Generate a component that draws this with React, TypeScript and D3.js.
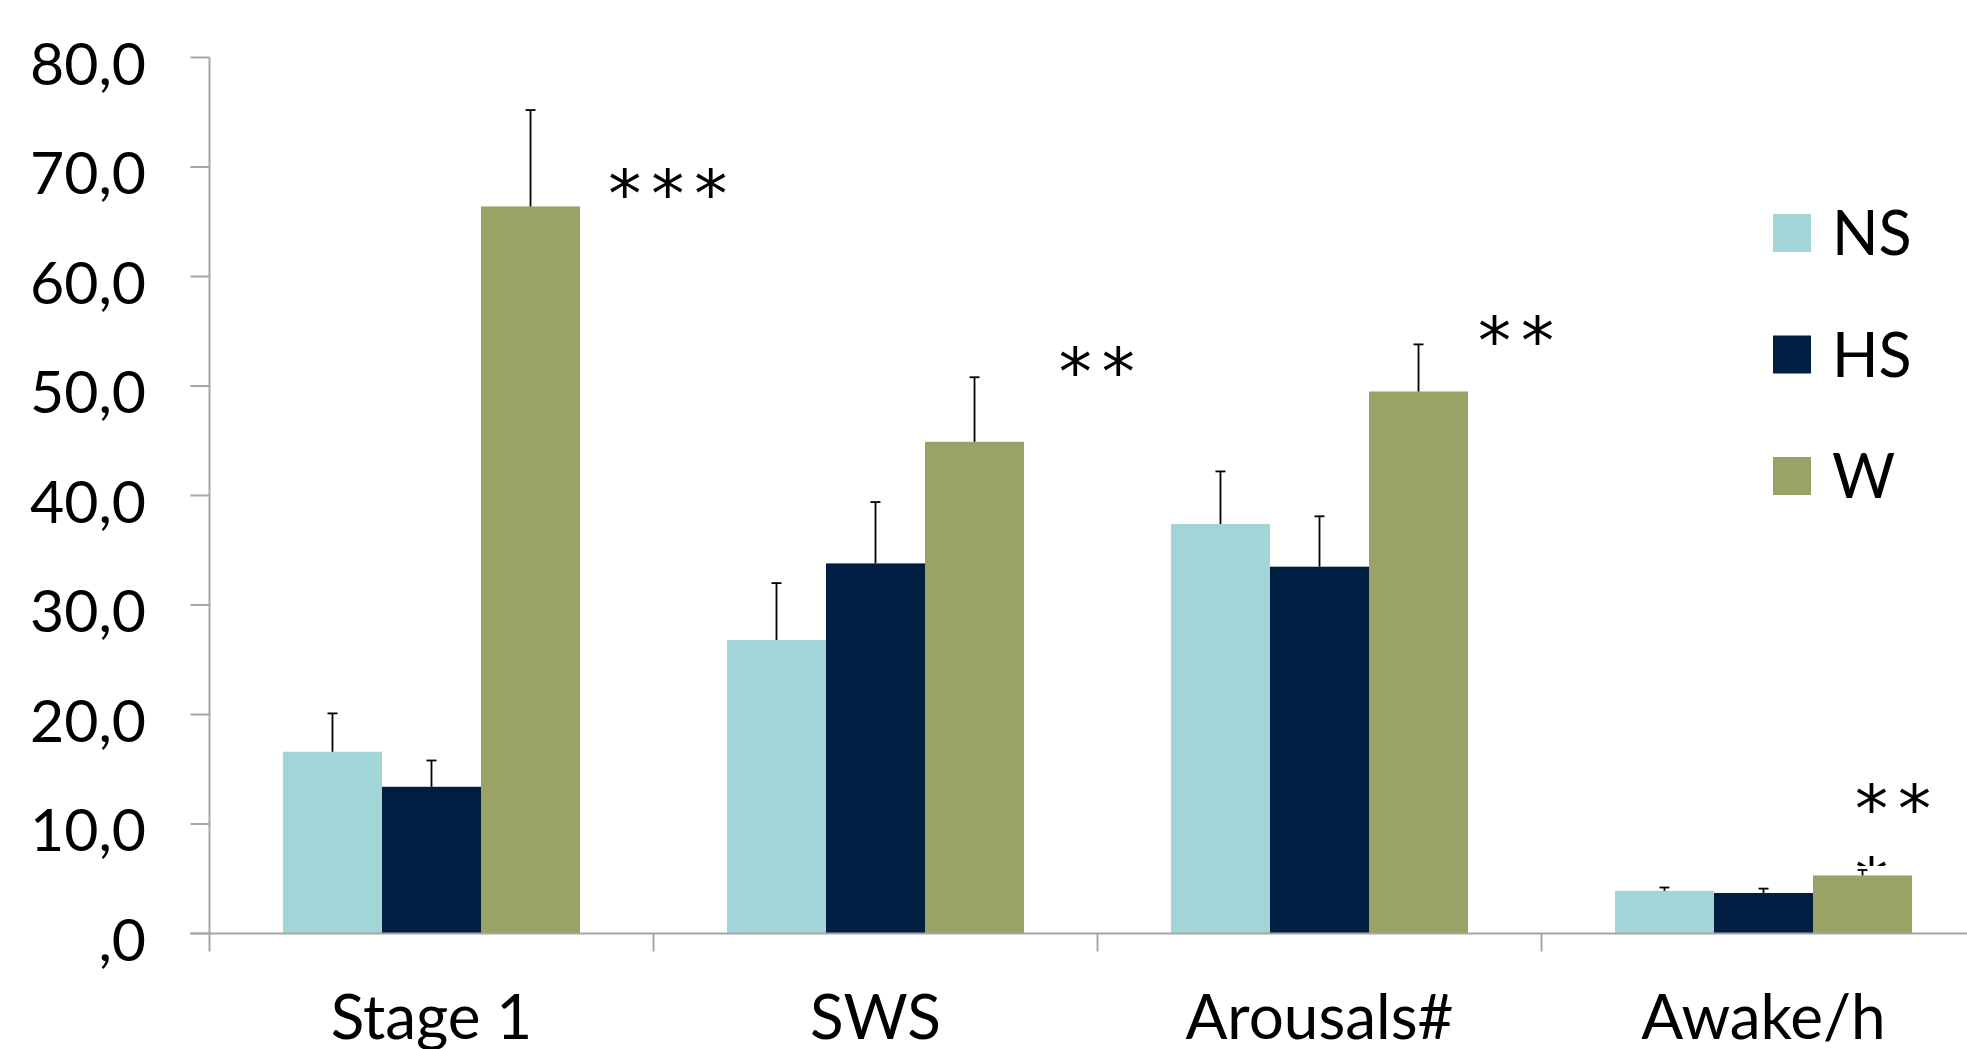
import { useEffect, useRef } from 'react';
import * as d3 from 'd3';

const categories = ['Stage 1', 'SWS', 'Arousals#', 'Awake/h'];
const series = ['NS', 'HS', 'W'];
const colors = ['#a1d5d7', '#001e42', '#9ba266'];

const nsValues = [16.6, 26.8, 37.4, 3.9];
const hsValues = [13.4, 33.8, 33.5, 3.7];
const wValues = [66.4, 44.9, 49.5, 5.3];

const nsErrors = [3.5, 5.2, 4.8, 0.3];
const hsErrors = [2.4, 5.6, 4.6, 0.4];
const wErrors = [8.8, 5.9, 4.3, 0.5];

const yTicks = [0, 10, 20, 30, 40, 50, 60, 70, 80];

// significance marks: label, x (fraction of category step), y (value of glyph centre)
const sigLabels = ['***', '**', '**', '**'];
const sigX = [0.898, 0.913, 0.857, 0.706];
const sigY = [69.0, 52.7, 55.6, 12.8];

export default function App() {
    const svgRef = useRef<SVGSVGElement>(null);

    useEffect(() => {
        if (!svgRef.current) return;

        const width = 1967;
        const height = 1049;
        const svg = d3.select(svgRef.current);
        svg.selectAll('*').remove();
        svg.attr('width', width).attr('height', height);

        const x0 = 209.5;
        const step = 444;
        const axisColor = '#a6a6a6';
        const font = 'Lato, "Open Sans", sans-serif';
        const starFont = '"DejaVu Sans", sans-serif';

        const x = d3.scaleBand()
            .domain(categories)
            .range([x0, x0 + step * categories.length])
            .padding(0);

        const xs = d3.scaleBand()
            .domain(series)
            .range([0, x.bandwidth()])
            .paddingInner(0)
            .paddingOuter(0.742);

        const y = d3.scaleLinear().domain([0, 80]).range([933.5, 57.5]);

        const values = [nsValues, hsValues, wValues];
        const errors = [nsErrors, hsErrors, wErrors];

        // Bars
        series.forEach((s, si) => {
            const g = svg.append('g');
            g.selectAll('rect')
                .data(categories)
                .join('rect')
                .attr('x', (c) => (x(c) as number) + (xs(s) as number))
                .attr('y', (c, i) => y(values[si][i]))
                .attr('width', xs.bandwidth())
                .attr('height', (c, i) => y(0) - y(values[si][i]))
                .attr('fill', colors[si]);
        });

        // Error bars (upper only)
        series.forEach((s, si) => {
            categories.forEach((c, i) => {
                const cx = (x(c) as number) + (xs(s) as number) + xs.bandwidth() / 2;
                const top = y(values[si][i] + errors[si][i]);
                const base = y(values[si][i]);
                svg.append('line')
                    .attr('x1', cx).attr('x2', cx)
                    .attr('y1', base).attr('y2', top)
                    .attr('stroke', '#000').attr('stroke-width', 1.8);
                svg.append('line')
                    .attr('x1', cx - 5).attr('x2', cx + 5)
                    .attr('y1', top).attr('y2', top)
                    .attr('stroke', '#000').attr('stroke-width', 1.8);
            });
        });

        // Y axis
        svg.append('line')
            .attr('x1', x0).attr('x2', x0)
            .attr('y1', y(80)).attr('y2', y(0) + 18)
            .attr('stroke', axisColor).attr('stroke-width', 2);

        yTicks.forEach((t) => {
            svg.append('line')
                .attr('x1', x0 - 19).attr('x2', x0)
                .attr('y1', y(t)).attr('y2', y(t))
                .attr('stroke', axisColor).attr('stroke-width', 2);
            svg.append('text')
                .attr('x', 146)
                .attr('y', y(t) + 27)
                .attr('text-anchor', 'end')
                .attr('font-family', font)
                .attr('font-size', 59)
                .attr('fill', '#000')
                .text(t === 0 ? ',0' : d3.format('.1f')(t).replace('.', ','));
        });

        // X axis
        svg.append('line')
            .attr('x1', x0 - 19).attr('x2', width)
            .attr('y1', y(0)).attr('y2', y(0))
            .attr('stroke', axisColor).attr('stroke-width', 2);

        categories.forEach((c) => {
            const xe = (x(c) as number) + step;
            svg.append('line')
                .attr('x1', xe).attr('x2', xe)
                .attr('y1', y(0)).attr('y2', y(0) + 18)
                .attr('stroke', axisColor).attr('stroke-width', 2);
            svg.append('text')
                .attr('x', (x(c) as number) + step / 2)
                .attr('y', 1039)
                .attr('text-anchor', 'middle')
                .attr('font-family', font)
                .attr('font-size', 62)
                .attr('fill', '#000')
                .text(c);
        });

        // Significance marks
        categories.forEach((c, i) => {
            svg.append('text')
                .attr('x', (x(c) as number) + sigX[i] * step)
                .attr('y', y(sigY[i]) + 39)
                .attr('font-family', starFont)
                .attr('font-size', 66)
                .attr('letter-spacing', 10)
                .attr('fill', '#000')
                .text(sigLabels[i]);
        });

        // partly hidden mark above the W bar of the last category
        const last = categories[categories.length - 1];
        svg.append('clipPath').attr('id', 'cut')
            .append('rect')
            .attr('x', (x(last) as number) + 300).attr('width', 60)
            .attr('y', y(7.25)).attr('height', 12);
        svg.append('text')
            .attr('clip-path', 'url(#cut)')
            .attr('x', (x(last) as number) + sigX[3] * step)
            .attr('y', y(6.2) + 39)
            .attr('font-family', starFont)
            .attr('font-size', 66)
            .attr('fill', '#000')
            .text('*');

        // Legend
        series.forEach((s, si) => {
            const ly = 214 + si * 121.5;
            svg.append('rect')
                .attr('x', 1773).attr('y', ly)
                .attr('width', 38).attr('height', 38)
                .attr('fill', colors[si]);
            svg.append('text')
                .attr('x', 1832)
                .attr('y', ly + 19 + 22)
                .attr('font-family', font)
                .attr('font-size', 61)
                .attr('fill', '#000')
                .text(s);
        });
    }, []);

    return (
        <svg
            ref={svgRef}
            style={{ position: 'absolute', left: 0, top: 0, display: 'block', background: '#fff' }}
        ></svg>
    );
}
